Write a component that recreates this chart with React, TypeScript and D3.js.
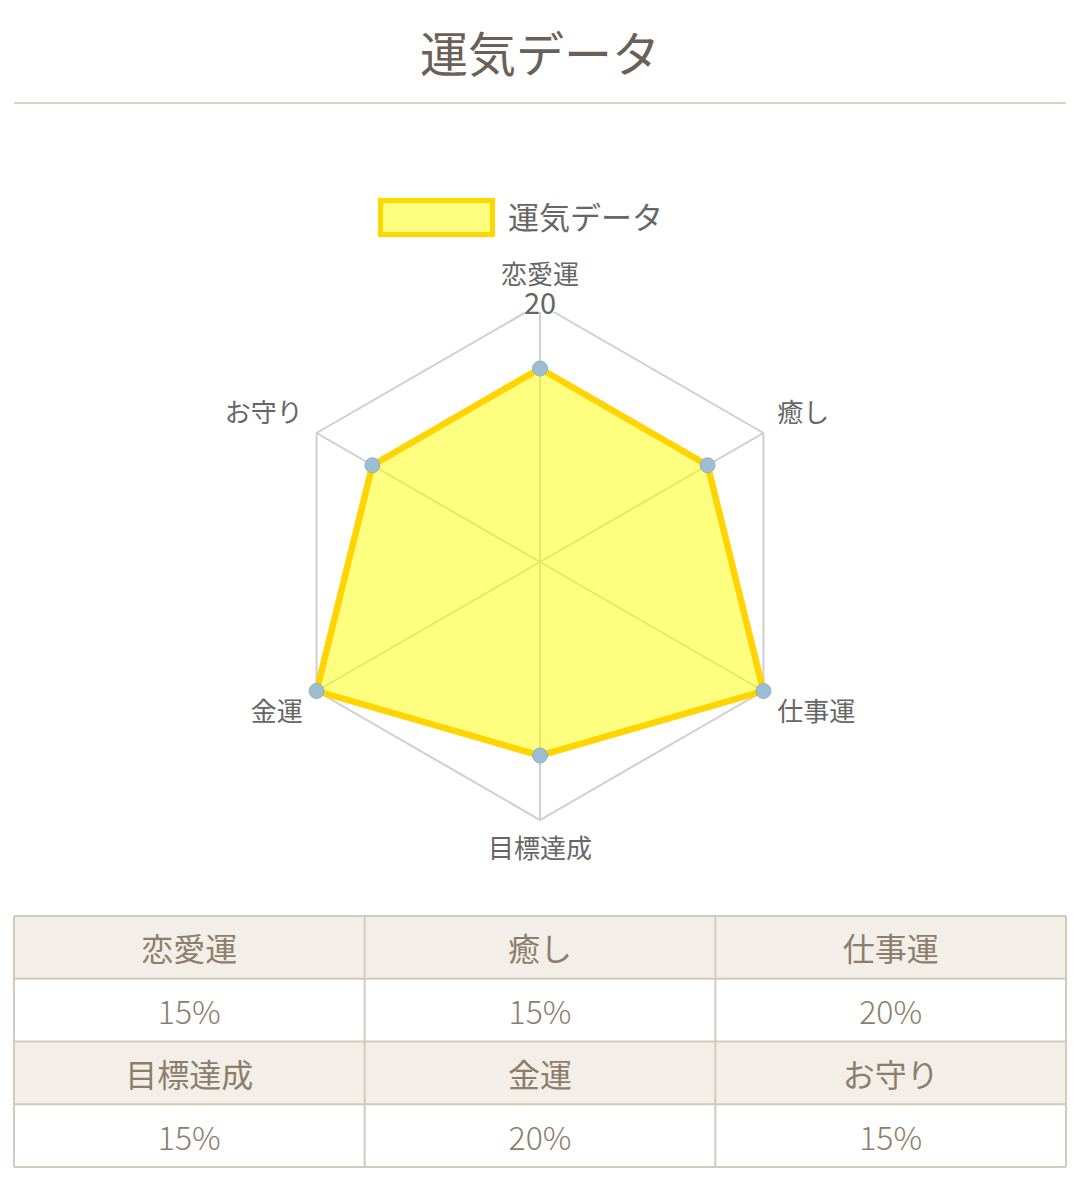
import React from "react";
import * as d3 from "d3";

const categories: string[] = ["恋愛運", "癒し", "仕事運", "目標達成", "金運", "お守り"];
const values: number[] = [15, 15, 20, 15, 20, 15];
const seriesName = "運気データ";
const maxValue = 20;
const tickValues: number[] = [20];
const tableRows: { cats: string[]; vals: string[] }[] = [
  { cats: ["恋愛運", "癒し", "仕事運"], vals: ["15%", "15%", "20%"] },
  { cats: ["目標達成", "金運", "お守り"], vals: ["15%", "20%", "15%"] },
];

const W = 1080;
const H = 1204;
const cx = 540;
const cy = 562;
const R = 258;
const FONT = "'Noto Sans CJK JP', 'Noto Sans', sans-serif";

export default function App() {
  const r = d3.scaleLinear().domain([0, maxValue]).range([0, R]);
  const n = categories.length;
  const ang = d3.scaleLinear().domain([0, n]).range([0, 2 * Math.PI]);
  const pt = (i: number, v: number): [number, number] => {
    const a = ang(i);
    return [cx + r(v) * Math.sin(a), cy - r(v) * Math.cos(a)];
  };
  const line = d3.line().curve(d3.curveLinearClosed);
  const dataPts = values.map((v, i) => pt(i, v));

  const tableX0 = 14, tableX1 = 1066, tableY0 = 916, rowH = 62.75;
  const colX = d3.scaleLinear().domain([0, 3]).range([tableX0, tableX1]);
  const rowYs: number[] = [];
  tableRows.forEach((_, k) => { rowYs.push(tableY0 + rowH * 2 * k, tableY0 + rowH * (2 * k + 1)); });

  return (
    <svg width={W} height={H} style={{ position: "absolute", left: 0, top: 0, display: "block", background: "#fff" }}>
      {/* title */}
      <text x={540} y={51} textAnchor="middle" dominantBaseline="central" fontFamily={FONT} fontSize={48} fill="#6b5f57">{seriesName}</text>
      <line x1={14} x2={1066} y1={103} y2={103} stroke="#d8d2c2" strokeWidth={2} />

      {/* legend */}
      <rect x={380.5} y={200.5} width={112} height={34} fill="rgba(255,255,0,0.5)" stroke="#ffd700" strokeWidth={5} />
      <text x={508} y={215} dominantBaseline="central" fontFamily={FONT} fontSize={31} fill="#666">{seriesName}</text>

      {/* grid */}
      {tickValues.map((t) => (
        <path key={t} d={line(categories.map((_, i) => pt(i, t))) || ""} fill="none" stroke="#cfcfcf" strokeWidth={2} />
      ))}
      {categories.map((_, i) => {
        const [x, y] = pt(i, maxValue);
        return <line key={i} x1={cx} y1={cy} x2={x} y2={y} stroke="#cfcfcf" strokeWidth={2} />;
      })}

      {/* data */}
      <path d={line(dataPts) || ""} fill="rgba(255,255,0,0.5)" stroke="#ffd400" strokeWidth={6.5} strokeLinejoin="miter" />
      {dataPts.map(([x, y], i) => (
        <circle key={i} cx={x} cy={y} r={7.5} fill="#9dbdd0" stroke="#8eb0c4" strokeWidth={1} />
      ))}

      {/* tick label */}
      {tickValues.map((t) => {
        const y = cy - r(t);
        return (
          <g key={t}>
            <rect x={cx - 21} y={y - 18} width={42} height={26} fill="#fff" />
            <text x={cx} y={y - 3} textAnchor="middle" dominantBaseline="central" fontFamily={FONT} fontSize={29} fill="#666">{t}</text>
          </g>
        );
      })}

      {/* point labels */}
      {categories.map((c, i) => {
        const [x, y] = pt(i, maxValue * 1.062);
        const a = ang(i);
        const s = Math.sin(a), co = Math.cos(a);
        let anchor: "start" | "middle" | "end" = "middle";
        if (s > 0.1) anchor = "start";
        else if (s < -0.1) anchor = "end";
        const dy = co > 0.9 ? -16 : co > 0.1 ? -15 : co < -0.1 ? 11 : 0;
        return (
          <text key={c} x={x} y={y + dy} textAnchor={anchor} dominantBaseline="central" fontFamily={FONT} fontSize={26} fill="#666">{c}</text>
        );
      })}

      {/* table */}
      {rowYs.map((y, k) => (
        <rect key={"bg" + k} x={tableX0} y={y} width={tableX1 - tableX0} height={rowH} fill={k % 2 === 0 ? "#f3efe8" : "#fff"} />
      ))}
      {tableRows.map((row, k) => (
        <g key={"row" + k}>
          {row.cats.map((c, j) => (
            <text key={"c" + j} x={(colX(j) + colX(j + 1)) / 2} y={rowYs[2 * k] + rowH / 2} textAnchor="middle" dominantBaseline="central" fontFamily={FONT} fontSize={32} fill="#8c7e6c">{c}</text>
          ))}
          {row.vals.map((v, j) => (
            <text key={"v" + j} x={(colX(j) + colX(j + 1)) / 2} y={rowYs[2 * k + 1] + rowH / 2} textAnchor="middle" dominantBaseline="central" fontFamily={FONT} fontSize={32} fontWeight={300} fill="#8c7e6c">{v}</text>
          ))}
        </g>
      ))}
      {[...rowYs, tableY0 + rowH * rowYs.length].map((y, k) => (
        <line key={"h" + k} x1={tableX0} x2={tableX1} y1={y} y2={y} stroke="#d2cabb" strokeWidth={2} />
      ))}
      {[0, 1, 2, 3].map((j) => (
        <line key={"v" + j} x1={colX(j)} x2={colX(j)} y1={tableY0} y2={tableY0 + rowH * rowYs.length} stroke="#d2cabb" strokeWidth={2} />
      ))}
    </svg>
  );
}
